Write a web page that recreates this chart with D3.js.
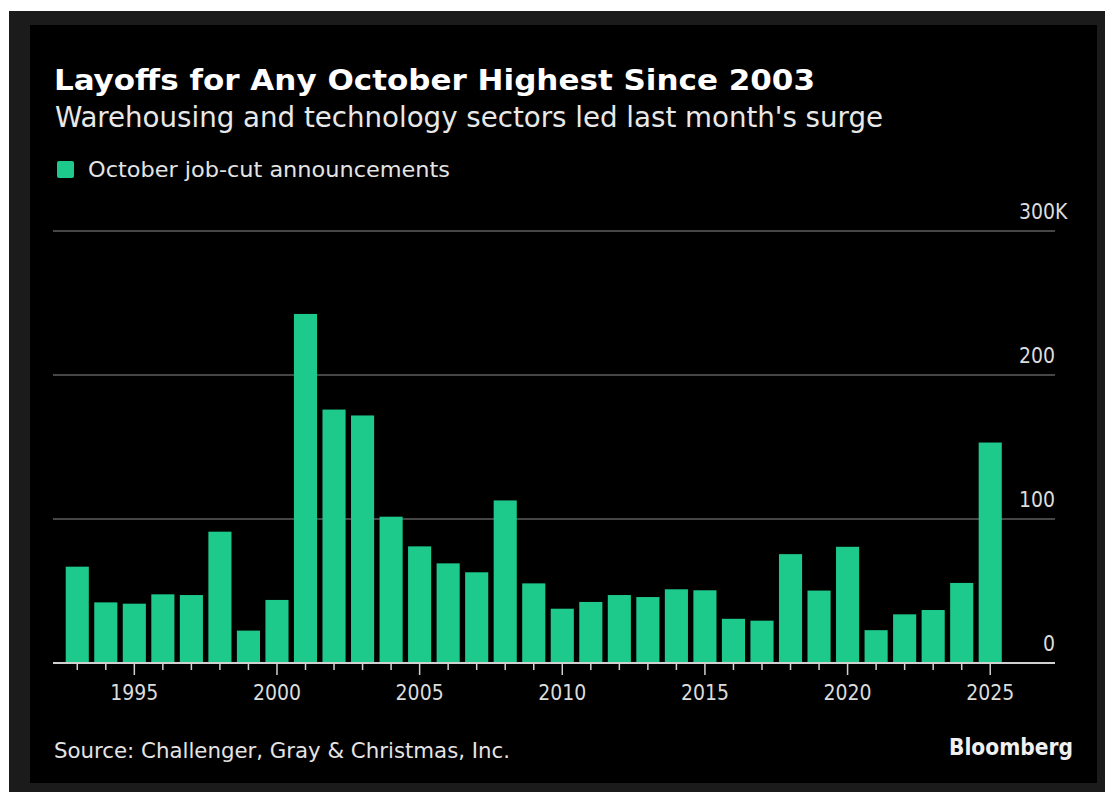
<html>
<meta charset="utf-8" />
<head>
<title>Layoffs for Any October</title>
<style>
body {
  margin: 0;
  background: #ffffff;
}

svg {
  display: block;
}

svg text {
  font-family: "DejaVu Sans Condensed", "DejaVu Sans", sans-serif;
  font-stretch: condensed;
  fill: #e4e4e4;
}

.title {
  font-weight: bold;
  font-size: 28px;
  fill: #ffffff;
}

.subtitle {
  font-size: 28px;
  fill: #e8e8e8;
}

.axis text {
  font-size: 21px;
  fill: #dcdcdc;
}
</style>
<script src="https://d3js.org/d3.v7.min.js" charset="utf-8"></script>
</head>

<body>
<svg class="chart"></svg>

<script>
var chartWidth = 1105;
var chartHeight = 792;

/********
 * Data *
 ********/

var years = d3.range(1993, 2026);

// October job-cut announcements, thousands
var jobCuts = [
  66.9, 42.1, 41.2, 47.7, 47.2, 91.2, 22.5, 43.8, 242.4, 176.0, 171.9,
  101.6, 81.0, 69.2, 63.0, 112.9, 55.3, 37.7, 42.4, 47.2, 45.8, 51.2,
  50.5, 30.7, 29.4, 75.6, 50.3, 80.7, 22.8, 33.8, 36.8, 55.6, 153.1
];

var yTicks = [0, 100, 200, 300];
var xLabelYears = [1995, 2000, 2005, 2010, 2015, 2020, 2025];

var titleText = "Layoffs for Any October Highest Since 2003";
var subtitleText = "Warehousing and technology sectors led last month's surge";
var legendText = "October job-cut announcements";
var sourceText = "Source: Challenger, Gray & Christmas, Inc.";

var barColor = "#1ec98c";

/**************
 * Make Chart *
 **************/

// squeeze a text to the width it has in the original
function fit(sel, w) {
  sel.attr("textLength", w).attr("lengthAdjust", "spacingAndGlyphs");
}

function makeChart() {

  var canvas = d3.select(".chart")
      .attr("width", chartWidth)
      .attr("height", chartHeight);

  // dark frame + black panel
  canvas.append("rect")
      .attr("x", 9).attr("y", 11)
      .attr("width", chartWidth - 9).attr("height", chartHeight - 11)
      .attr("fill", "#1b1b1b");

  canvas.append("rect")
      .attr("x", 30).attr("y", 25)
      .attr("width", 1067).attr("height", 758)
      .attr("fill", "#000000");

  // x position
  var x = d3.scaleBand()
      .domain(years)
      .range([63, 1004.5])
      .paddingInner(0.19)
      .paddingOuter(0.095);

  // y position
  var y = d3.scaleLinear()
      .domain([0, 300])
      .range([663, 231]);

  // grid lines
  canvas.append("g").selectAll("line")
      .data(yTicks.filter(function(d){ return d > 0; }))
      .enter().append("line")
      .attr("x1", 53).attr("x2", 1055)
      .attr("y1", function(d){ return y(d); })
      .attr("y2", function(d){ return y(d); })
      .attr("stroke", "#5e5e5e")
      .attr("stroke-width", 1.5);

  // y labels, sitting on top of their line
  var yLab = canvas.append("g").attr("class", "axis");
  yLab.selectAll("text")
      .data(yTicks)
      .enter().append("text")
      .attr("x", 1055)
      .attr("y", function(d){ return y(d) - 12; })
      .attr("text-anchor", "end")
      .text(function(d){ return d; });

  yLab.append("text")
      .attr("x", 1055)
      .attr("y", y(300) - 12)
      .text("K");

  // bars
  canvas.append("g").selectAll("rect")
      .data(jobCuts)
      .enter().append("rect")
      .attr("x", function(d, i){ return x(years[i]); })
      .attr("y", function(d){ return y(d); })
      .attr("width", x.bandwidth())
      .attr("height", function(d){ return y(0) - y(d); })
      .attr("fill", barColor);

  // x axis
  var xAxis = d3.axisBottom(x)
      .tickSize(7)
      .tickPadding(14)
      .tickFormat(function(d){ return xLabelYears.indexOf(d) >= 0 ? d : ""; });

  var xAxisGroup = canvas.append("g")
      .attr("class", "axis")
      .attr("transform", "translate(0," + y(0) + ")")
      .call(xAxis);

  xAxisGroup.select(".domain").remove();

  xAxisGroup.selectAll(".tick line")
      .attr("stroke", "#d0d0d0")
      .attr("stroke-width", 1.5)
      .attr("y2", function(d){ return d % 5 === 0 ? 12 : 7; });

  xAxisGroup.selectAll(".tick text")
      .attr("y", 37)
      .attr("dy", 0)
      .attr("fill", "#dcdcdc");

  canvas.append("line")
      .attr("x1", 53).attr("x2", 1055)
      .attr("y1", y(0)).attr("y2", y(0))
      .attr("stroke", "#d0d0d0")
      .attr("stroke-width", 2);

  // titles
  canvas.append("text")
      .attr("class", "title")
      .attr("x", 54).attr("y", 90)
      .text(titleText)
      .call(fit, 761);

  canvas.append("text")
      .attr("class", "subtitle")
      .attr("x", 55).attr("y", 127)
      .text(subtitleText)
      .call(fit, 828);

  // legend
  canvas.append("rect")
      .attr("x", 57).attr("y", 161)
      .attr("width", 17).attr("height", 17)
      .attr("rx", 2)
      .attr("fill", barColor);

  canvas.append("text")
      .attr("x", 88).attr("y", 177)
      .style("font-size", "22px")
      .text(legendText)
      .call(fit, 362);

  // footer
  canvas.append("text")
      .attr("x", 54).attr("y", 758)
      .style("font-size", "22px")
      .text(sourceText)
      .call(fit, 456);

  canvas.append("text")
      .attr("x", 1073).attr("y", 755)
      .attr("text-anchor", "end")
      .style("font-size", "23px")
      .style("font-weight", "bold")
      .style("fill", "#f0f0f0")
      .text("Bloomberg")
      .call(fit, 124);
}

makeChart();

</script>
</body>
</html>
